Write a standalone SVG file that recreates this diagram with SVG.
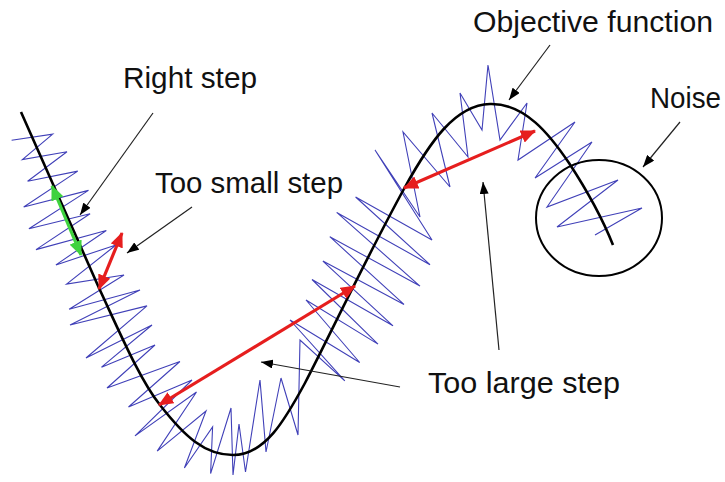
<svg xmlns="http://www.w3.org/2000/svg" width="725" height="482" viewBox="0 0 725 482">
<style>
.lbl{font-family:"Liberation Sans",Arial,sans-serif;font-size:29px;fill:#111}
.noise{fill:none;stroke:#4040b8;stroke-width:1.1;stroke-linejoin:miter}
.curve{fill:none;stroke:#000;stroke-width:2.6}
.ptr{stroke:#222;stroke-width:1.2;fill:none;marker-end:url(#ptr)}
.red{stroke:#e61e1e;stroke-width:3.2;marker-start:url(#rh);marker-end:url(#rh)}
.green{stroke:#3ed23e;stroke-width:3.2;marker-start:url(#gh);marker-end:url(#gh)}
</style>
<defs>
<marker id="ptr" viewBox="0 0 12 9" refX="12" refY="4.5" markerWidth="12" markerHeight="9" markerUnits="userSpaceOnUse" orient="auto"><path d="M0,0 L12,4.5 L0,9 z" fill="#000"/></marker>
<marker id="rh" viewBox="0 0 15 13" refX="14" refY="6.5" markerWidth="15" markerHeight="13" markerUnits="userSpaceOnUse" orient="auto-start-reverse"><path d="M0,0 L15,6.5 L0,13 z" fill="#e61e1e"/></marker>
<marker id="gh" viewBox="0 0 15 13" refX="14" refY="6.5" markerWidth="15" markerHeight="13" markerUnits="userSpaceOnUse" orient="auto-start-reverse"><path d="M0,0 L15,6.5 L0,13 z" fill="#3ed23e"/></marker>
</defs>
<rect width="725" height="482" fill="#fff"/>
<g id="noise">
<polyline class="noise" points="11.6,140.2 52.7,134.1 22.4,159.5 67,151.7 27.6,181.2 77.8,171.1 23.7,207 88.5,190.4 28.9,228.7 90.1,213.7 36,249.6 106.3,230.5 55.9,264.9 116,245 66.6,284.1 124,275 69.1,309.3 140,290 70,325 147,305.9 86,358 152,325 101.5,367.2 155,345 107,388 179.9,361.5 128.5,407 192,380 135,435.9 196.5,392 157.2,451.1 206,411 184.4,468 212.6,427 210.6,473.6 231,408 233,475 239,424 245.5,472 260,380 266,452 281,378 298,435 300,340 344.8,380.9 290,320 359.7,362.5 306,300 378,344.1 312,279.5 393,325.8 322.9,261.1 404,304.4 329.8,236.7 420,286.1 336.7,212.4 430,264.7 355.6,197 432,240 375,150 420,217 403,132 450,187 432,113 468,157 460,93 482,130 488,65 500,140 527,103 518,160 575,122 535,178 592,142 547,207 618,180 557,227 642,208 595,235"/>
</g>
<g id="objective-function">
<path class="curve" d="M21,112 L99,288 C120,333 140,380 160,405 C185,437 205,455 233,455 C265,455 285,420 305,383 C330,335 365,260 405,187 C430,142 455,105 490,104 C525,103 550,135 569,163 C590,195 603,220 613,245"/>
</g>
<g id="noise-circle">
<ellipse cx="599" cy="218" rx="63" ry="58" fill="none" stroke="#000" stroke-width="2"/>
</g>
<g id="steps">
<line class="green" x1="52" y1="186" x2="81" y2="255"/>
<line class="red" x1="99" y1="289" x2="122" y2="233"/>
<line class="red" x1="159" y1="405" x2="355" y2="286"/>
<line class="red" x1="404" y1="188" x2="535" y2="131"/>
</g>
<g id="connectors">
<line class="ptr" x1="153" y1="113" x2="80" y2="215"/>
<line class="ptr" x1="192" y1="207" x2="127" y2="253"/>
<line class="ptr" x1="400" y1="387" x2="261" y2="362"/>
<line class="ptr" x1="499" y1="350" x2="483" y2="182"/>
<line class="ptr" x1="550" y1="45" x2="509" y2="100"/>
<line class="ptr" x1="680" y1="122" x2="643" y2="167"/>
</g>
<g id="labels">
<text class="lbl" x="473" y="32" textLength="240" lengthAdjust="spacingAndGlyphs">Objective function</text>
<text class="lbl" x="123" y="88" textLength="134" lengthAdjust="spacingAndGlyphs">Right step</text>
<text class="lbl" x="155" y="193" textLength="188" lengthAdjust="spacingAndGlyphs">Too small step</text>
<text class="lbl" x="428" y="393" textLength="192" lengthAdjust="spacingAndGlyphs">Too large step</text>
<text class="lbl" x="650" y="108" textLength="71" lengthAdjust="spacingAndGlyphs">Noise</text>
</g>
</svg>
